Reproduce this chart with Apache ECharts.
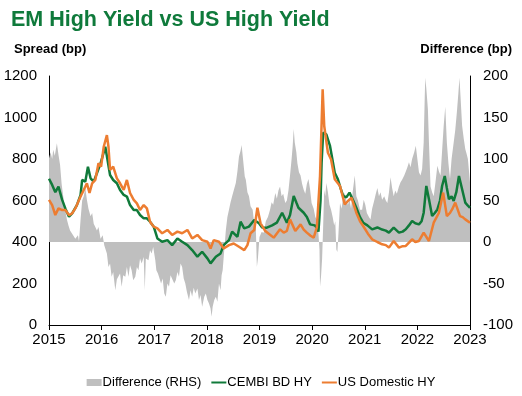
<!DOCTYPE html>
<html>
<head>
<meta charset="utf-8">
<script src="https://cdn.jsdelivr.net/npm/echarts@6/dist/echarts.min.js"></script>
<style>html,body{margin:0;padding:0;background:#fff}#c{width:522px;height:396px}</style>
</head>
<body>
<div id="c"></div>
<script>
// Time in fractional years
var yearTicks = [2015, 2016, 2017, 2018, 2019, 2020, 2021, 2022, 2023];
var seriesNames = ['Difference (RHS)', 'CEMBI BD HY', 'US Domestic HY'];

var cembiT = [2015.00,2015.06,2015.12,2015.18,2015.25,2015.31,2015.38,2015.44,2015.53,2015.60,2015.63,2015.69,2015.74,2015.79,2015.85,2015.91,2015.98,2016.07,2016.10,2016.16,2016.22,2016.29,2016.35,2016.42,2016.48,2016.54,2016.61,2016.67,2016.73,2016.80,2016.86,2016.92,2016.99,2017.06,2017.15,2017.25,2017.34,2017.44,2017.53,2017.63,2017.72,2017.82,2017.91,2018.01,2018.07,2018.17,2018.26,2018.32,2018.42,2018.48,2018.58,2018.64,2018.71,2018.80,2018.90,2018.99,2019.05,2019.14,2019.24,2019.33,2019.43,2019.52,2019.58,2019.65,2019.70,2019.74,2019.84,2019.90,2019.96,2020.05,2020.09,2020.12,2020.16,2020.18,2020.21,2020.27,2020.34,2020.43,2020.49,2020.54,2020.59,2020.65,2020.71,2020.78,2020.84,2020.91,2020.97,2021.05,2021.14,2021.24,2021.33,2021.40,2021.46,2021.55,2021.65,2021.72,2021.78,2021.84,2021.90,2021.96,2022.03,2022.08,2022.12,2022.17,2022.22,2022.28,2022.33,2022.38,2022.43,2022.47,2022.52,2022.56,2022.60,2022.65,2022.69,2022.74,2022.79,2022.85,2022.91,2022.96,2023.00];
var cembiV = [705,675,640,667,603,562,522,538,578,627,699,691,763,707,691,731,779,859,867,723,699,683,651,627,619,578,554,554,530,514,514,498,474,417,401,409,385,417,401,385,361,329,353,321,297,329,345,385,409,450,425,498,466,474,506,490,470,469,480,493,541,493,530,622,590,565,541,520,485,480,469,450,600,782,927,919,863,734,702,660,622,615,638,600,565,520,493,480,461,470,460,455,445,469,445,450,461,480,501,490,485,500,541,670,606,525,540,557,600,670,718,660,606,620,598,640,718,654,590,575,565];

var usT = [2015.00,2015.06,2015.12,2015.18,2015.25,2015.31,2015.38,2015.44,2015.50,2015.60,2015.66,2015.72,2015.77,2015.82,2015.88,2015.94,2015.99,2016.04,2016.10,2016.13,2016.16,2016.22,2016.29,2016.35,2016.42,2016.48,2016.54,2016.61,2016.67,2016.73,2016.80,2016.86,2016.92,2016.99,2017.06,2017.15,2017.25,2017.34,2017.44,2017.53,2017.63,2017.72,2017.82,2017.91,2018.01,2018.07,2018.13,2018.23,2018.32,2018.42,2018.51,2018.61,2018.71,2018.77,2018.83,2018.90,2018.96,2019.02,2019.11,2019.20,2019.27,2019.39,2019.46,2019.52,2019.58,2019.68,2019.78,2019.84,2019.90,2019.97,2020.03,2020.09,2020.15,2020.20,2020.23,2020.30,2020.36,2020.43,2020.53,2020.62,2020.69,2020.75,2020.84,2020.91,2020.97,2021.06,2021.14,2021.24,2021.33,2021.40,2021.46,2021.55,2021.65,2021.72,2021.78,2021.90,2021.96,2022.03,2022.12,2022.22,2022.31,2022.41,2022.49,2022.56,2022.62,2022.66,2022.72,2022.81,2022.86,2022.91,2023.00];
var usV = [603,578,530,562,554,554,530,538,562,619,651,683,636,683,699,779,763,859,915,859,747,763,707,683,651,699,636,603,586,554,578,562,498,474,466,442,458,434,450,442,458,417,434,409,401,369,409,401,369,385,393,377,361,385,442,458,565,490,453,435,421,461,445,453,509,453,485,460,445,430,421,470,718,1136,959,830,798,702,670,581,600,613,541,500,477,440,413,400,389,385,373,405,373,380,381,413,400,405,445,405,493,541,638,525,540,557,590,525,520,509,493];

var diffT = [2015.00,2015.03,2015.06,2015.08,2015.11,2015.15,2015.18,2015.21,2015.24,2015.27,2015.31,2015.34,2015.37,2015.40,2015.44,2015.47,2015.50,2015.53,2015.55,2015.57,2015.60,2015.63,2015.66,2015.69,2015.72,2015.75,2015.79,2015.82,2015.85,2015.88,2015.91,2015.94,2015.98,2016.02,2016.05,2016.07,2016.10,2016.13,2016.16,2016.19,2016.22,2016.26,2016.29,2016.32,2016.35,2016.38,2016.41,2016.45,2016.48,2016.51,2016.54,2016.57,2016.60,2016.64,2016.67,2016.70,2016.73,2016.76,2016.80,2016.82,2016.84,2016.89,2016.92,2016.95,2016.98,2017.02,2017.04,2017.07,2017.09,2017.13,2017.16,2017.19,2017.22,2017.25,2017.28,2017.31,2017.34,2017.38,2017.41,2017.44,2017.47,2017.50,2017.53,2017.56,2017.59,2017.62,2017.66,2017.69,2017.72,2017.75,2017.78,2017.82,2017.85,2017.88,2017.91,2017.95,2017.98,2018.01,2018.04,2018.07,2018.09,2018.11,2018.14,2018.17,2018.20,2018.23,2018.26,2018.28,2018.30,2018.33,2018.36,2018.39,2018.42,2018.45,2018.48,2018.51,2018.55,2018.58,2018.61,2018.64,2018.66,2018.69,2018.72,2018.74,2018.77,2018.80,2018.83,2018.87,2018.90,2018.93,2018.95,2018.97,2019.00,2019.04,2019.08,2019.12,2019.16,2019.20,2019.23,2019.26,2019.30,2019.33,2019.36,2019.39,2019.42,2019.45,2019.49,2019.52,2019.55,2019.58,2019.61,2019.63,2019.65,2019.67,2019.70,2019.72,2019.75,2019.78,2019.81,2019.84,2019.87,2019.90,2019.93,2019.96,2019.99,2020.03,2020.06,2020.09,2020.12,2020.14,2020.15,2020.17,2020.19,2020.20,2020.21,2020.23,2020.25,2020.27,2020.30,2020.33,2020.36,2020.39,2020.42,2020.44,2020.46,2020.48,2020.50,2020.53,2020.56,2020.59,2020.62,2020.65,2020.68,2020.71,2020.74,2020.77,2020.79,2020.81,2020.84,2020.87,2020.91,2020.95,2020.98,2021.01,2021.04,2021.08,2021.11,2021.14,2021.18,2021.21,2021.24,2021.27,2021.30,2021.33,2021.37,2021.40,2021.43,2021.46,2021.49,2021.52,2021.55,2021.58,2021.61,2021.65,2021.68,2021.71,2021.75,2021.78,2021.81,2021.84,2021.87,2021.90,2021.94,2021.97,2022.00,2022.03,2022.06,2022.09,2022.12,2022.14,2022.15,2022.17,2022.20,2022.22,2022.25,2022.28,2022.31,2022.34,2022.38,2022.41,2022.44,2022.47,2022.50,2022.53,2022.56,2022.59,2022.62,2022.65,2022.69,2022.72,2022.75,2022.78,2022.80,2022.82,2022.85,2022.88,2022.91,2022.94,2022.96,2023.00];
var diffV = [101,108,100,111,104,119,105,93,70,55,38,27,20,14,10,8,4,2,8,1,27,50,55,65,51,40,31,35,22,18,14,18,4,8,-4,-2,-14,-30,-26,-42,-36,-58,-45,-46,-38,-54,-40,-42,-30,-42,-28,-34,-46,-42,-30,-34,-20,-26,-18,-58,-20,-22,-10,-14,-6,-22,-34,-38,-42,-50,-44,-62,-66,-50,-54,-40,-42,-50,-46,-36,-42,-26,-30,-44,-50,-60,-70,-58,-66,-55,-62,-56,-70,-64,-78,-66,-62,-70,-74,-80,-90,-78,-70,-66,-72,-50,-58,-40,-34,-10,14,30,39,48,55,62,71,85,103,110,117,98,79,75,60,55,43,39,22,18,-30,-20,6,12,11,25,30,39,48,45,59,52,62,67,55,58,47,50,62,80,100,115,136,120,108,95,84,80,70,63,58,70,76,64,47,40,30,27,10,-9,-54,-41,-20,0,20,63,55,71,60,45,39,30,20,25,-9,-12,10,47,40,55,59,50,45,51,40,60,70,80,55,50,39,39,51,45,35,30,27,40,50,58,65,55,60,51,55,50,47,60,78,65,55,62,58,67,72,75,80,85,90,96,90,100,108,116,100,84,80,88,120,175,198,185,160,120,67,60,55,70,92,85,80,110,140,163,120,95,76,100,120,135,156,180,198,175,140,125,112,105,100,72];

function pairs(t, v) { return t.map(function (x, i) { return [x, v[i]]; }); }

var FONT = "'Liberation Sans', Arial, sans-serif";
var LINE_ICON = 'path://M0,0 L15,0 L15,2 L0,2 Z';
var chart = echarts.init(document.getElementById('c'), null, {renderer: 'canvas'});
chart.setOption({
  animation: false,
  textStyle: {fontFamily: FONT, color: '#000'},
  title: [
    {text: 'EM High Yield vs US High Yield', left: 6, top: 4,
     textStyle: {fontFamily: FONT, fontWeight: 'bold', fontSize: 21.5, color: '#0F7A3B'}},
    {text: 'Spread (bp)', left: 9, top: 38,
     textStyle: {fontFamily: FONT, fontWeight: 'bold', fontSize: 13, color: '#000'}},
    {text: 'Difference (bp)', right: 5, top: 38,
     textStyle: {fontFamily: FONT, fontWeight: 'bold', fontSize: 13, color: '#000'}}
  ],
  grid: {left: 49, right: 52, top: 76, bottom: 71, containLabel: false},
  legend: {
    data: [
      {name: seriesNames[0], icon: 'rect'},
      {name: seriesNames[1], icon: LINE_ICON},
      {name: seriesNames[2], icon: LINE_ICON}
    ],
    left: 'center', top: 371, itemWidth: 15, itemHeight: 7, itemGap: 10,
    symbolKeepAspect: true,
    textStyle: {fontFamily: FONT, fontSize: 13, color: '#000', padding: [0, 0, 0, -4]}
  },
  xAxis: {
    type: 'value', min: yearTicks[0], max: yearTicks[yearTicks.length - 1], interval: 1,
    axisLine: {lineStyle: {color: '#000', width: 1}},
    axisTick: {show: true, length: 5, lineStyle: {color: '#000'}},
    axisLabel: {fontSize: 15, color: '#000', margin: 7, formatter: function (v) { return String(v); }},
    splitLine: {show: false}
  },
  yAxis: [
    {type: 'value', min: 0, max: 1200, interval: 200, position: 'left',
     axisLine: {show: true, lineStyle: {color: '#000', width: 1}},
     axisTick: {show: false},
     axisLabel: {fontSize: 15, color: '#000', margin: 12, formatter: function (v) { return String(v); }},
     splitLine: {show: false}},
    {type: 'value', min: -100, max: 200, interval: 50, position: 'right',
     axisLine: {show: true, lineStyle: {color: '#000', width: 1}},
     axisTick: {show: false},
     axisLabel: {fontSize: 15, color: '#000', margin: 13, formatter: function (v) { return String(v); }},
     splitLine: {show: false}}
  ],
  series: [
    {name: seriesNames[0], type: 'line', yAxisIndex: 1, data: pairs(diffT, diffV),
     symbol: 'none', color: '#BFBFBF', lineStyle: {width: 0, color: '#BFBFBF'},
     areaStyle: {color: '#BFBFBF', opacity: 1, origin: 0}, z: 1},
    {name: seriesNames[1], type: 'line', yAxisIndex: 0, data: pairs(cembiT, cembiV),
     symbol: 'none', color: '#107A3A', lineStyle: {width: 2.5, color: '#107A3A'}, z: 2},
    {name: seriesNames[2], type: 'line', yAxisIndex: 0, data: pairs(usT, usV),
     symbol: 'none', color: '#ED7D31', lineStyle: {width: 2.5, color: '#ED7D31'}, z: 3}
  ]
});
</script>
</body>
</html>
